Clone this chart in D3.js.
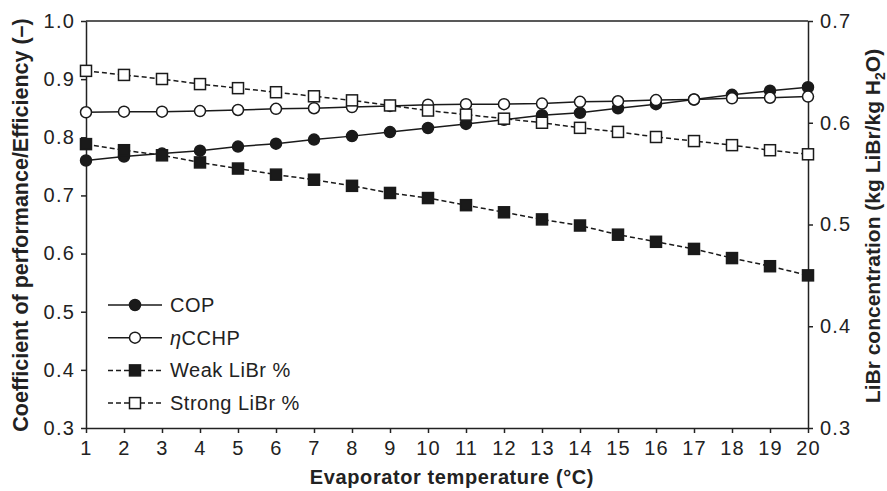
<!DOCTYPE html>
<html>
  <head>
    <meta charset="utf-8">
    <title>Evaporator temperature chart</title>
    <script src="https://cdn.jsdelivr.net/npm/d3@7"></script>
    <style>
      body { margin: 0; background: #fff; }
      svg { font-family: "Liberation Sans", Arial, sans-serif; }
      .tick text { font-size: 20px; fill: #222; }
      .domain, .tick line { stroke: #222; stroke-width: 1.5px; }
      .title { font-weight: bold; fill: #222; }
      .legend text { font-size: 20px; fill: #222; }
    </style>
  </head>

  <body>
    <svg id="chart" width="887" height="491"></svg>

    <script>
      // data
      temps = d3.range(1, 21);
      cop = [0.760, 0.767, 0.772, 0.777, 0.784, 0.789, 0.796, 0.802, 0.809, 0.816,
             0.823, 0.830, 0.838, 0.842, 0.850, 0.857, 0.865, 0.873, 0.880, 0.886];
      etaCCHP = [0.843, 0.844, 0.844, 0.845, 0.847, 0.849, 0.850, 0.852, 0.854, 0.856,
                 0.857, 0.857, 0.858, 0.861, 0.862, 0.864, 0.865, 0.867, 0.868, 0.870];
      weakLiBr = [0.579, 0.573, 0.568, 0.561, 0.555, 0.549, 0.544, 0.538, 0.531, 0.526,
                  0.519, 0.512, 0.505, 0.499, 0.490, 0.483, 0.476, 0.467, 0.459, 0.450];
      strongLiBr = [0.651, 0.647, 0.643, 0.638, 0.634, 0.630, 0.626, 0.622, 0.617, 0.612,
                    0.608, 0.604, 0.600, 0.595, 0.591, 0.586, 0.582, 0.578, 0.573, 0.569];
      leftTicks = [0.3, 0.4, 0.5, 0.6, 0.7, 0.8, 0.9, 1.0];
      rightTicks = [0.3, 0.4, 0.5, 0.6, 0.7];

      series = [
        {name: "COP", values: cop, axis: "left", marker: "circle", fill: "#1a1a1a", dash: null},
        {name: "CCHP", eta: true, values: etaCCHP, axis: "left", marker: "circle", fill: "#fff", dash: null},
        {name: "Weak LiBr %", values: weakLiBr, axis: "right", marker: "square", fill: "#1a1a1a", dash: "5,3"},
        {name: "Strong LiBr %", values: strongLiBr, axis: "right", marker: "square", fill: "#fff", dash: "5,3"}
      ];

      chart = d3.select("#chart");
      margin = {top: 21, right: 79, bottom: 63, left: 86};
      width = 887;
      height = 491;

      x = d3.scaleLinear()
          .domain([1, 20])
          .range([margin.left, width - margin.right]);

      yLeft = d3.scaleLinear()
          .domain([0.3, 1.0])
          .range([height - margin.bottom, margin.top]);

      yRight = d3.scaleLinear()
          .domain([0.3, 0.7])
          .range([height - margin.bottom, margin.top]);

      // top frame line
      chart.append("line")
          .attr("x1", margin.left).attr("x2", width - margin.right)
          .attr("y1", margin.top).attr("y2", margin.top)
          .attr("stroke", "#222").attr("stroke-width", 1.5);

      // axes
      chart.append("g")
          .attr("transform", "translate(0," + (height - margin.bottom) + ")")
          .call(d3.axisBottom(x).tickValues(temps).tickFormat(d3.format("d")).tickSize(5).tickSizeOuter(0).tickPadding(8));

      chart.append("g")
          .attr("transform", "translate(" + margin.left + ",0)")
          .call(d3.axisLeft(yLeft).tickValues(leftTicks).tickFormat(d3.format(".1f")).tickSize(5).tickSizeOuter(0).tickPadding(6));

      chart.append("g")
          .attr("transform", "translate(" + (width - margin.right) + ",0)")
          .call(d3.axisRight(yRight).tickValues(rightTicks).tickFormat(d3.format(".1f")).tickSize(5).tickSizeOuter(0).tickPadding(7));

      chart.selectAll(".tick text").attr("letter-spacing", "1.2px");

      // series
      series.forEach(s => {
        yScale = s.axis == "left" ? yLeft : yRight;
        pts = temps.map((t, i) => [x(t), yScale(s.values[i])]);
        chart.append("path")
            .attr("d", d3.line()(pts))
            .attr("fill", "none")
            .attr("stroke", "#1a1a1a")
            .attr("stroke-width", 1.5)
            .attr("stroke-dasharray", s.dash);
        drawMarkers(chart, pts, s);
      });

      function drawMarkers(g, pts, s) {
        if (s.marker == "circle") {
          g.append("g").selectAll("circle").data(pts).join("circle")
              .attr("cx", d => d[0]).attr("cy", d => d[1]).attr("r", 5.5)
              .attr("fill", s.fill).attr("stroke", "#1a1a1a").attr("stroke-width", 1.5);
        } else {
          g.append("g").selectAll("rect").data(pts).join("rect")
              .attr("x", d => d[0] - 5.5).attr("y", d => d[1] - 5.5)
              .attr("width", 11).attr("height", 11)
              .attr("fill", s.fill).attr("stroke", "#1a1a1a").attr("stroke-width", 1.5);
        }
      }

      // legend
      legend = chart.append("g").attr("class", "legend");
      series.forEach((s, i) => {
        ly = 305 + i * 32.7;
        row = legend.append("g");
        row.append("line")
            .attr("x1", 108).attr("x2", 162).attr("y1", ly).attr("y2", ly)
            .attr("stroke", "#1a1a1a").attr("stroke-width", 1.5)
            .attr("stroke-dasharray", s.dash);
        drawMarkers(row, [[135, ly]], s);
        label = row.append("text").attr("x", 170).attr("y", ly).attr("dy", "0.35em")
            .attr("letter-spacing", "0.5px");
        if (s.eta) {
          label.append("tspan").attr("font-style", "italic").text("η");
        }
        label.append("tspan").text(s.name);
      });

      // axis titles
      chart.append("text")
          .attr("class", "title")
          .attr("x", 452)
          .attr("y", 484)
          .attr("text-anchor", "middle")
          .attr("font-size", "20px")
          .attr("letter-spacing", "0.6px")
          .text("Evaporator temperature (°C)");

      chart.append("text")
          .attr("class", "title")
          .attr("font-size", "21.5px")
          .attr("transform", "translate(28," + 225 + ") rotate(-90)")
          .attr("text-anchor", "middle")
          .text("Coefficient of performance/Efficiency (–)");

      rightTitle = chart.append("text")
          .attr("class", "title")
          .attr("font-size", "21px")
          .attr("transform", "translate(880," + 226 + ") rotate(-90)")
          .attr("text-anchor", "middle");
      rightTitle.append("tspan").text("LiBr concentration (kg LiBr/kg H");
      rightTitle.append("tspan").attr("font-size", "14px").attr("dy", "5").text("2");
      rightTitle.append("tspan").attr("dy", "-5").text("O)");
    </script>
  </body>
</html>
